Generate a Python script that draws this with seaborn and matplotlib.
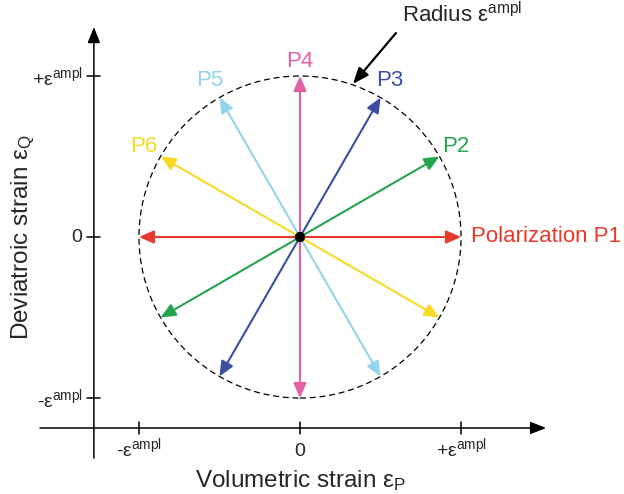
import numpy as np
import pandas as pd
import matplotlib
matplotlib.use("Agg")
import matplotlib.pyplot as plt
import seaborn as sns
from matplotlib.patches import Circle

# Loading directions in the volumetric / deviatoric strain plane
polarizations = ["P1", "P2", "P3", "P4", "P5", "P6"]
angles_deg = [0, 30, 60, 90, 120, 150]
amplitude = 1.0  # radius of the strain circle, eps^ampl
colors = ["#E8392A", "#25A44C", "#3A4FA2", "#E660A4", "#93D4EB", "#F7DA26"]

tick_values = [-1.0, 0.0, 1.0]
x_tick_labels = [r"-ε$^{\mathrm{ampl}}$", "0", r"+ε$^{\mathrm{ampl}}$"]
y_tick_labels = [r"-ε$^{\mathrm{ampl}}$", "0", r"+ε$^{\mathrm{ampl}}$"]

sns.set_theme(style="white")
plt.rcParams["font.family"] = ["Liberation Sans", "DejaVu Sans"]
plt.rcParams["mathtext.fontset"] = "custom"
plt.rcParams["mathtext.rm"] = "Liberation Sans"
plt.rcParams["mathtext.it"] = "Liberation Sans:italic"

fig = plt.figure(figsize=(6.24, 4.94), dpi=100)
ax = fig.add_axes([0, 0, 1, 1])
ax.set_xlim(-1.863, 2.012)
ax.set_ylim(-1.596, 1.472)
ax.set_axis_off()

df = pd.DataFrame({"label": polarizations, "angle": angles_deg, "color": colors})
df["dx"] = amplitude * np.cos(np.deg2rad(df["angle"]))
df["dy"] = amplitude * np.sin(np.deg2rad(df["angle"]))

# Coordinate axes with arrow heads
x_axis_y, y_axis_x = -1.186, -1.280
axis_head = dict(arrowstyle="-|>,head_length=0.8,head_width=0.32", color="black",
                 lw=1.1, shrinkA=0, shrinkB=0, mutation_scale=12)
ax.annotate("", xy=(1.528, x_axis_y), xytext=(-1.615, x_axis_y), arrowprops=axis_head)
ax.annotate("", xy=(y_axis_x, 1.304), xytext=(y_axis_x, -1.373), arrowprops=axis_head)

tick_half = 0.04
for v, lab in zip(tick_values, x_tick_labels):
    ax.plot([v, v], [x_axis_y - tick_half, x_axis_y + tick_half], color="black", lw=1.1)
    ax.text(v, -1.362, lab, ha="center", va="baseline", fontsize=14)
for v, lab in zip(tick_values, y_tick_labels):
    ax.plot([y_axis_x - tick_half, y_axis_x + tick_half], [v, v], color="black", lw=1.1)
    if v == 0:
        ax.text(-1.352, v, lab, ha="right", va="center", fontsize=14)
    else:
        ax.text(-1.348, v - 0.055, lab, ha="right", va="baseline", fontsize=14)

ax.text(0.0, -1.553, r"Volumetric strain ε$_{\mathrm{P}}$", ha="center", va="baseline",
        fontsize=17.5)
ax.text(-1.689, 0.0, r"Deviatroic strain ε$_{\mathrm{Q}}$", ha="center", va="baseline",
        rotation=90, rotation_mode="anchor", fontsize=17.5)

# Strain amplitude circle
ax.add_patch(Circle((0, 0), amplitude, fill=False, edgecolor="black", lw=0.9,
                    linestyle=(0, (4.8, 3.0)), zorder=2))

# Double-headed polarization arrows
for _, row in df.iterrows():
    ax.annotate("", xy=(row["dx"], row["dy"]), xytext=(-row["dx"], -row["dy"]),
                arrowprops=dict(arrowstyle="<|-|>,head_length=0.75,head_width=0.33",
                                color=row["color"], lw=1.5, shrinkA=0, shrinkB=0,
                                mutation_scale=12),
                zorder=3)

sns.scatterplot(x=[0.0], y=[0.0], color="black", s=55, edgecolor="none", ax=ax, zorder=5)

# Direction labels
label_r = 1.12
for _, row in df.iterrows():
    if row["label"] == "P1":
        ax.text(1.062, 0.006, "Polarization P1", color=row["color"], ha="left",
                va="center", fontsize=16)
    else:
        r = 1.09 if row["label"] == "P4" else label_r
        a = np.deg2rad(row["angle"])
        ax.text(r * np.cos(a), r * np.sin(a), row["label"], color=row["color"],
                ha="center", va="center", fontsize=16)

# Radius annotation
ax.annotate("", xy=(0.329, 0.951), xytext=(0.596, 1.267),
            arrowprops=dict(arrowstyle="-|>,head_length=0.8,head_width=0.32", color="black",
                            lw=1.6, shrinkA=0, shrinkB=0, mutation_scale=12))
ax.text(0.634, 1.335, r"Radius ε$^{\mathrm{ampl}}$", ha="left", va="baseline", fontsize=16)

fig.savefig("out.png", dpi=100)
